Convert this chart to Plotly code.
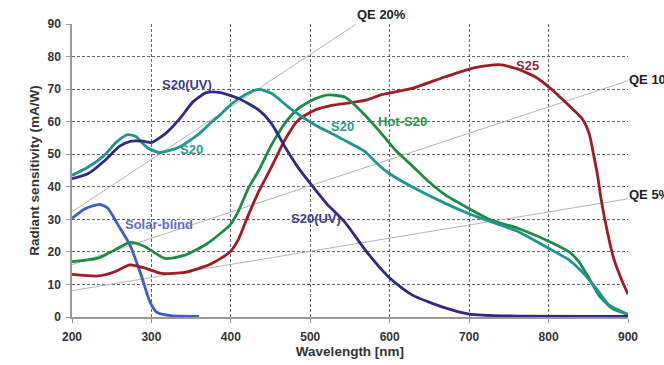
import plotly.graph_objects as go

# ---- data ----
s20uv_wl = [200, 220, 241, 260, 275, 290, 300, 318, 336, 352, 369, 385, 409, 435, 451, 468, 485, 502, 520, 544, 571, 600, 628, 670, 700, 750, 900]
s20uv_val = [42.5, 44, 48, 52.5, 54, 54, 53.6, 56.4, 61, 66, 68.9, 69, 67.2, 63.6, 59.5, 52.3, 45.8, 40.4, 35, 29, 20, 12, 6.8, 2.8, 0.9, 0.3, 0.2]

s20_wl = [200, 220, 240, 255, 270, 280, 295, 310, 336, 361, 374, 386, 401, 418, 435, 451, 477, 506, 530, 550, 569, 586, 600, 628, 670, 699, 727, 762, 800, 826, 846, 863, 876, 897, 900]
s20_val = [43.5, 46, 49.5, 53.5, 56, 55.5, 52, 50.5, 52.3, 56.5, 59.5, 62, 65.5, 68.3, 69.9, 68.7, 63.6, 59, 56, 53.4, 50.8, 46.7, 44, 40, 34.9, 31.8, 29.3, 26.2, 21.1, 17.5, 12.9, 7.8, 3.7, 1.1, 0.8]

hots20_wl = [200, 233, 254, 273, 292, 317, 342, 370, 399, 409, 422, 435, 451, 468, 485, 506, 523, 544, 565, 586, 607, 628, 649, 670, 699, 727, 762, 800, 826, 838, 851, 863, 880, 900]
hots20_val = [17, 18.1, 20.6, 22.9, 21.6, 18, 19, 22.5, 28.3, 32.3, 39.5, 45, 52.8, 59.5, 64.1, 67, 68.2, 67.5, 63, 57.4, 51.3, 46.5, 41.6, 37.5, 33.4, 29.8, 27.2, 23.3, 20, 17, 11.9, 6.8, 2.7, 0.8]

s25_wl = [200, 233, 254, 273, 292, 313, 342, 374, 399, 409, 422, 435, 451, 468, 485, 506, 527, 550, 570, 590, 628, 670, 704, 737, 758, 783, 805, 825, 842, 851, 857, 862, 866, 874, 882, 893, 900]
s25_val = [13.1, 12.6, 13.9, 16, 15, 13.4, 13.7, 16.2, 20, 23.6, 31.3, 38.5, 46, 54.4, 60.5, 63.6, 65, 65.8, 66.6, 68.3, 70.2, 73.8, 76.4, 77.5, 76.4, 73.8, 69.7, 65.1, 61, 56.4, 49.5, 43, 36.4, 26.2, 18, 10.8, 7]

solar_wl = [200, 216, 235, 245, 258, 273, 287, 298, 306, 325, 360]
solar_val = [30.3, 33.2, 34.6, 33.4, 28.3, 22.1, 12.9, 4.7, 1.6, 0.4, 0.2]

# QE reference lines (end points)
qe_names = ["QE 20%", "QE 10%", "QE 5%"]
qe_x = [[200, 558], [200, 900], [200, 900]]
qe_y = [[32.3, 90], [16.1, 72.6], [8.1, 36.3]]
qe_label_x = [558, 900, 900]
qe_label_y = [92.8, 73.0, 37.6]

x_ticks = [200, 300, 400, 500, 600, 700, 800, 900]
y_ticks = [0, 10, 20, 30, 40, 50, 60, 70, 80, 90]
Y_MAX = 90

FONT = "Liberation Sans, Arial, sans-serif"

fig = go.Figure()

for xs, ys in zip(qe_x, qe_y):
    fig.add_trace(go.Scatter(x=xs, y=ys, mode="lines",
                             line=dict(color="#b5b5b5", width=1), hoverinfo="skip"))

series = [
    (solar_wl, solar_val, "#3c5ec6"),
    (s25_wl, s25_val, "#a01c22"),
    (hots20_wl, hots20_val, "#1e8c44"),
    (s20_wl, s20_val, "#1c9690"),
    (s20uv_wl, s20uv_val, "#2c2a84"),
]
for xs, ys, c in series:
    fig.add_trace(go.Scatter(x=xs, y=ys, mode="lines",
                             line=dict(color=c, width=2.8, shape="spline", smoothing=0.6)))

labels = [
    ("S20(UV)", 345, 71.4, "#3a3a8e"),
    ("S20", 351, 51.3, "#2a9a94"),
    ("Solar-blind", 309, 28.4, "#5a6fcc"),
    ("S20(UV)", 507, 30.4, "#3a3a8e"),
    ("S20", 541, 58.4, "#2a9a94"),
    ("Hot-S20", 616, 60.2, "#2a9447"),
    ("S25", 773, 77.3, "#8e2a40"),
]
for t, x, y, c in labels:
    fig.add_annotation(x=x, y=y, text=t, showarrow=False,
                       font=dict(family=FONT, size=13, color=c, weight="bold"))

# QE labels: placed in paper coordinates vertically so the top one (above the axis range) is drawn
for t, x, y in zip(qe_names, qe_label_x, qe_label_y):
    fig.add_annotation(x=x, xref="x", y=y / Y_MAX, yref="paper", text=t, showarrow=False,
                       xanchor="left", yanchor="middle", xshift=-1,
                       font=dict(family=FONT, size=13, color="#222", weight="bold"))

fig.update_layout(
    width=664, height=365,
    margin=dict(l=72, r=36, t=24, b=48),
    paper_bgcolor="white", plot_bgcolor="white",
    showlegend=False,
    font=dict(family=FONT, color="#333"),
)
fig.update_xaxes(
    range=[200, 900], tickvals=x_ticks, automargin=False,
    showgrid=True, gridcolor="#666", griddash="3px,2px", gridwidth=1,
    showline=True, linecolor="#999", linewidth=1.5,
    ticks="outside", ticklen=4, tickcolor="#999", ticklabelstandoff=4,
    zeroline=False,
    tickfont=dict(family=FONT, size=12, color="#333", weight="bold"),
    title=dict(text="Wavelength [nm]", standoff=3,
               font=dict(family=FONT, size=13.5, color="#333", weight="bold")),
)
fig.update_yaxes(
    range=[0, Y_MAX], tickvals=y_ticks, automargin=False,
    showgrid=True, gridcolor="#666", griddash="3px,2px", gridwidth=1,
    showline=True, linecolor="#999", linewidth=1.5,
    ticks="outside", ticklen=4, tickcolor="#999", ticklabelstandoff=3,
    zeroline=False,
    tickfont=dict(family=FONT, size=12, color="#333", weight="bold"),
    title=dict(text="Radiant sensitivity (mA/W)", standoff=5,
               font=dict(family=FONT, size=13.5, color="#333", weight="bold")),
)

# remove the default page margin so the 664x365 figure fills the window exactly
fig.write_html("out.html", config={"displayModeBar": False},
               post_script="document.body.style.margin='0px';")
